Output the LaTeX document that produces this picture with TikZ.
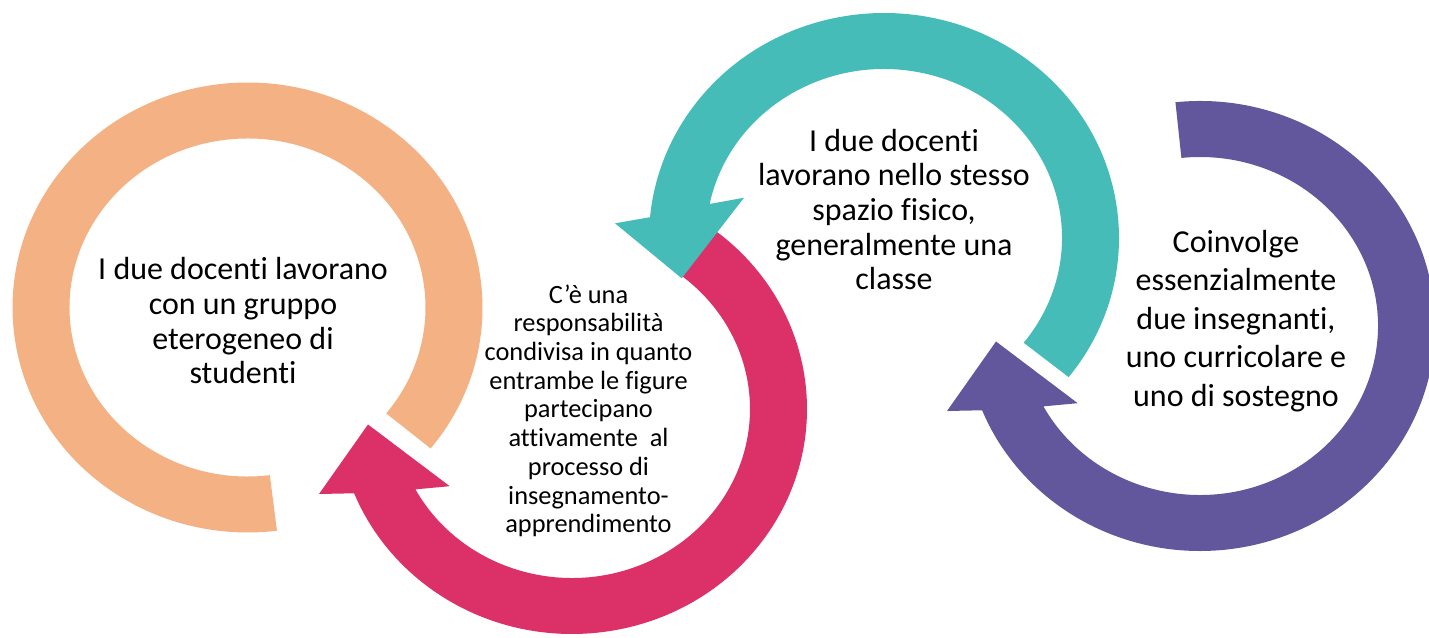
\documentclass[tikz,border=0pt]{standalone}
\usepackage{fontspec}
\setmainfont{Carlito}[Ligatures={NoCommon}]
\usepackage{tikz}
\definecolor{peach}{RGB}{244,177,131}
\definecolor{rose}{RGB}{220,48,104}
\definecolor{teal2}{RGB}{69,188,184}
\definecolor{violet2}{RGB}{98,86,157}

\begin{document}
\begin{tikzpicture}[x=0.2mm,y=0.2mm,
    bigtxt/.style={align=center,font=\fontsize{18.2}{19.7}\selectfont},
    widetxt/.style={align=center,font=\fontsize{18.2}{21.9}\selectfont},
    smalltxt/.style={align=center,font=\fontsize{15}{16.35}\selectfont}]
    \useasboundingbox (0,0) rectangle (1429,637);
    \coordinate (oc) at (247.5,329.5);
    \coordinate (rc) at (572,228);
    \coordinate (tc) at (884,399);
    \coordinate (vc) at (1200,311);

    % rings
    \begin{scope}[shift={(oc)}]
    \fill[peach] (-38.8:235 and 225) arc[start angle=-38.8,end angle=277.2,x radius=235,y radius=225]
        -- (277.2:178 and 169) arc[start angle=277.2,end angle=-38.8,x radius=178,y radius=169] -- cycle;
    \end{scope}
    \begin{scope}[shift={(rc)}]
    \fill[rose] (52.5:235 and 225) arc[start angle=52.5,end angle=-158,x radius=235,y radius=225]
        -- (-253,-85) -- (-204,-15.5) -- (-122.3,-77.2)
        -- (-151.6:178 and 169) arc[start angle=-151.6,end angle=52.5,x radius=178,y radius=169] -- cycle;
    \end{scope}
    \begin{scope}[shift={(tc)}]
    \fill[teal2] (-38.2:235 and 225) arc[start angle=-38.2,end angle=174.7,x radius=235,y radius=225]
        -- (-269,14.7) -- (-202.3,-40.3) -- (-140,40.3)
        -- (168.4:178 and 169) arc[start angle=168.4,end angle=-38.3,x radius=178,y radius=169] -- cycle;
    \end{scope}
    \begin{scope}[shift={(vc)}]
    \fill[violet2] (96:235 and 225) arc[start angle=96,end angle=-158,x radius=235,y radius=225]
        -- (-253,-85) -- (-204,-15.5) -- (-122.3,-77.2)
        -- (-151.6:178 and 169) arc[start angle=-151.6,end angle=96,x radius=178,y radius=169] -- cycle;
    \end{scope}

    % texts
    \node[bigtxt] (gruppo) at (243,316.2) {I due docenti lavorano\\con un gruppo\\eterogeneo di\\studenti};
    \node[smalltxt] (resp) at (588.5,226.2) {C'è una\\responsabilità\\condivisa in quanto\\entrambe le figure\\partecipano\\attivamente\ \ al\\processo di\\insegnamento-\\apprendimento};
    \node[bigtxt] (spazio) at (894,427.5) {I due docenti\\lavorano nello stesso\\spazio fisico,\\generalmente una\\classe};
    \node[widetxt] (coinv) at (1236,316.3) {Coinvolge\\essenzialmente\\due insegnanti,\\uno curricolare e\\uno di sostegno};
\end{tikzpicture}
\end{document}
